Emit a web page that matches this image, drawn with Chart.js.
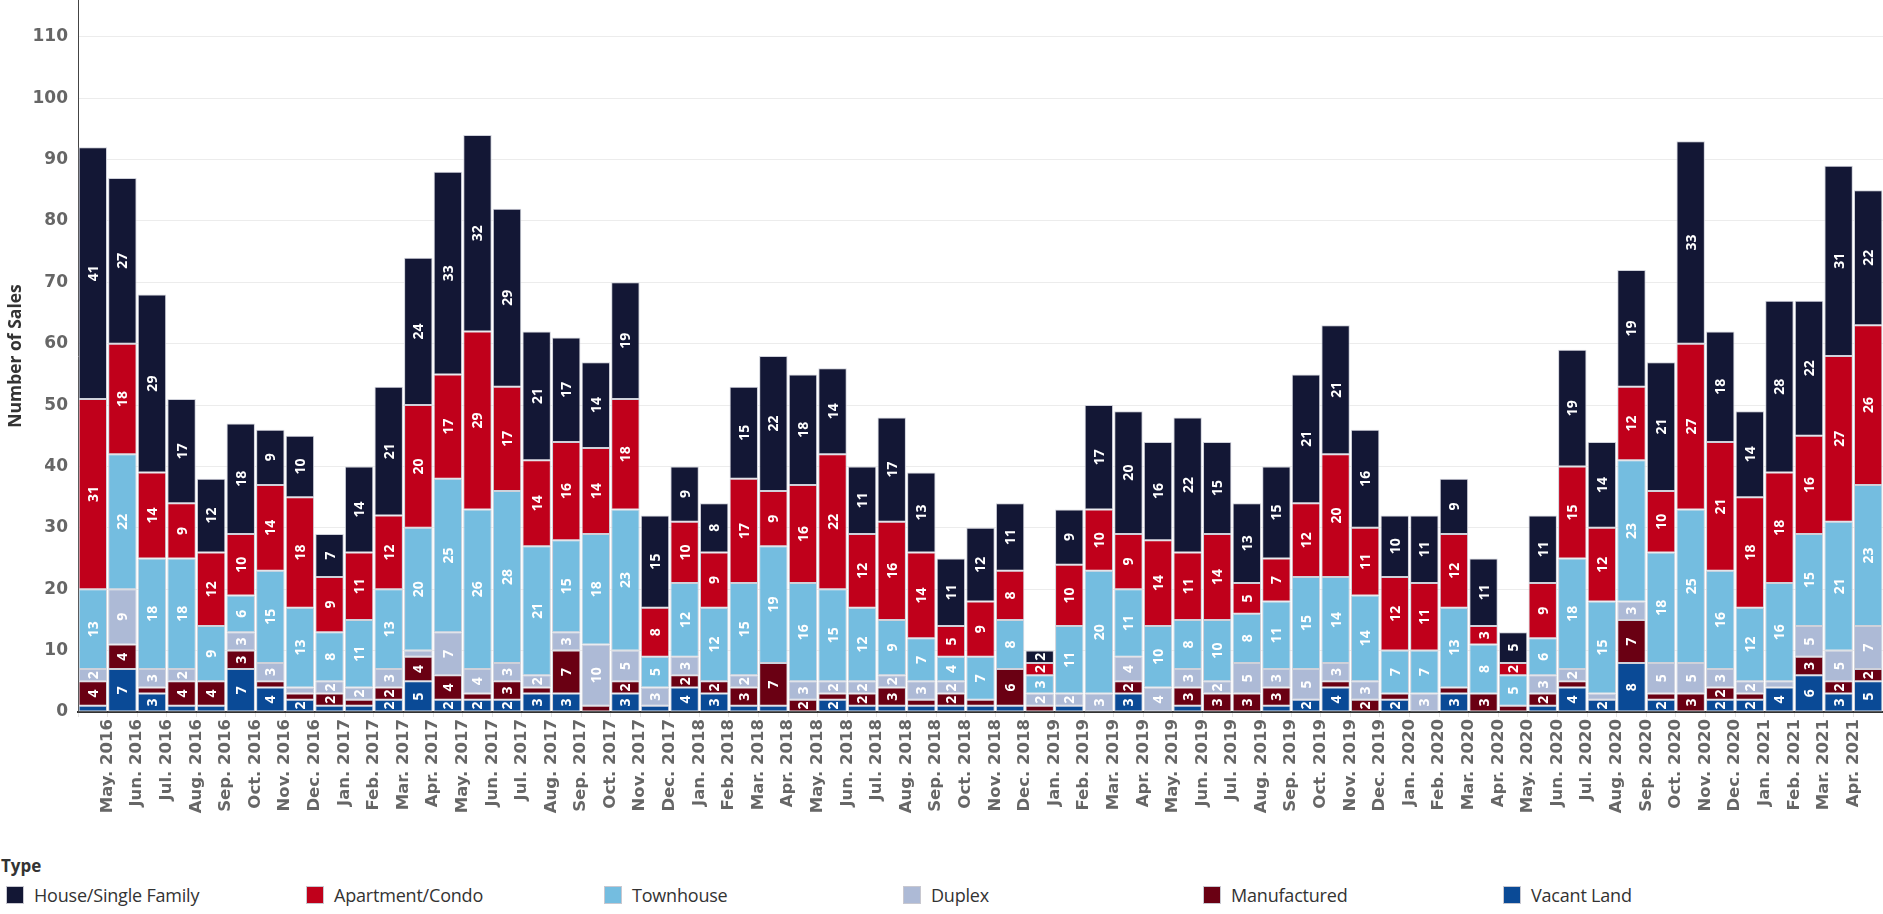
<!DOCTYPE html>
<html>
<head>
<meta charset="utf-8">
<script src="https://cdn.jsdelivr.net/npm/chart.js@4.4.1/dist/chart.umd.min.js"></script>
<style>
html,body{margin:0;padding:0;background:#fff;overflow:hidden;width:1883px;height:914px}
#wrap{position:relative;width:1883px;height:914px}
#c{position:absolute;left:0;top:0}
#legendTitle{position:absolute;left:1px;top:854px;font:bold 17px 'Open Sans',sans-serif;color:#333}
.item{position:absolute;top:884px;height:22px;display:flex;align-items:center;font:18px 'Open Sans',sans-serif;color:#333;white-space:nowrap;letter-spacing:-0.2px}
.sw{width:18px;height:18px;margin-right:10px;box-sizing:border-box;border:1px solid #c8c8d0}
</style>
</head>
<body>
<div id="wrap">
<canvas id="c" width="1883" height="850"></canvas>
<div id="legendTitle">Type</div>
<div id="legend"></div>
</div>
<script>
const months = ['May. 2016','Jun. 2016','Jul. 2016','Aug. 2016','Sep. 2016','Oct. 2016','Nov. 2016','Dec. 2016',
'Jan. 2017','Feb. 2017','Mar. 2017','Apr. 2017','May. 2017','Jun. 2017','Jul. 2017','Aug. 2017','Sep. 2017','Oct. 2017','Nov. 2017','Dec. 2017',
'Jan. 2018','Feb. 2018','Mar. 2018','Apr. 2018','May. 2018','Jun. 2018','Jul. 2018','Aug. 2018','Sep. 2018','Oct. 2018','Nov. 2018','Dec. 2018',
'Jan. 2019','Feb. 2019','Mar. 2019','Apr. 2019','May. 2019','Jun. 2019','Jul. 2019','Aug. 2019','Sep. 2019','Oct. 2019','Nov. 2019','Dec. 2019',
'Jan. 2020','Feb. 2020','Mar. 2020','Apr. 2020','May. 2020','Jun. 2020','Jul. 2020','Aug. 2020','Sep. 2020','Oct. 2020','Nov. 2020','Dec. 2020',
'Jan. 2021','Feb. 2021','Mar. 2021','Apr. 2021','May. 2021'];

const houseSingleFamily = [41,27,29,17,12,18,9,10,7,14,21,24,33,32,29,21,17,14,19,15,9,8,15,22,18,14,11,17,13,11,12,11,2,9,17,20,16,22,15,13,15,21,21,16,10,11,9,11,5,11,19,14,19,21,33,18,14,28,22,31,22];
const apartmentCondo   = [31,18,14,9,12,10,14,18,9,11,12,20,17,29,17,14,16,14,18,8,10,9,17,9,16,22,12,16,14,5,9,8,2,10,10,9,14,11,14,5,7,12,20,11,12,11,12,3,2,9,15,12,12,10,27,21,18,18,16,27,26];
const townhouse        = [13,22,18,18,9,6,15,13,8,11,13,20,25,26,28,21,15,18,23,5,12,12,15,19,16,15,12,9,7,4,7,8,3,11,20,11,10,8,10,8,11,15,14,14,7,7,13,8,5,6,18,15,23,18,25,16,12,16,15,21,23];
const duplex           = [2,9,3,2,0,3,3,1,2,2,3,1,7,4,3,2,3,10,5,3,3,0,2,0,3,2,2,2,3,2,0,0,2,2,3,4,4,3,2,5,3,5,3,3,0,3,0,0,0,3,2,1,3,5,5,3,2,1,5,5,7];
const manufactured     = [4,4,1,4,4,3,1,1,2,1,2,4,4,1,3,1,7,1,2,0,2,2,3,7,2,1,2,3,1,2,1,6,1,0,0,2,0,3,3,3,3,0,1,2,1,0,1,3,1,2,1,0,7,1,3,2,1,0,3,2,2];
const vacantLand       = [1,7,3,1,1,7,4,2,1,1,2,5,2,2,2,3,3,0,3,1,4,3,1,1,0,2,1,1,1,1,1,1,0,1,0,3,0,1,0,0,1,2,4,0,2,0,3,0,0,1,4,2,8,2,0,2,2,4,6,3,5];

const yTickValues = [0,10,20,30,40,50,60,70,80,90,100,110];
const labeledMonthCount = 60;

const legendNames  = ['House/Single Family','Apartment/Condo','Townhouse','Duplex','Manufactured','Vacant Land'];
const legendColors = ['#131735','#c0001b','#74bde0','#adbad6','#6a0013','#0a4a96'];
const legendX = [6,306,604,903,1203,1503];

const lg = document.getElementById('legend');
legendNames.forEach((n,i)=>{
  const d=document.createElement('div'); d.className='item'; d.style.left=legendX[i]+'px';
  const s=document.createElement('div'); s.className='sw'; s.style.background=legendColors[i];
  const t=document.createElement('span'); t.textContent=n;
  d.appendChild(s); d.appendChild(t); lg.appendChild(d);
});

const stackSeries = [
  ['Vacant Land', vacantLand, legendColors[5]],
  ['Manufactured', manufactured, legendColors[4]],
  ['Duplex', duplex, legendColors[3]],
  ['Townhouse', townhouse, legendColors[2]],
  ['Apartment/Condo', apartmentCondo, legendColors[1]],
  ['House/Single Family', houseSingleFamily, legendColors[0]]
];

const segLabels = {
  id:'segLabels',
  afterDatasetsDraw(chart){
    const ctx=chart.ctx; ctx.save();
    ctx.font='bold 14px "Open Sans"'; ctx.fillStyle='#ffffff';
    ctx.textAlign='center'; ctx.textBaseline='middle';
    chart.data.datasets.forEach((ds,di)=>{
      const meta=chart.getDatasetMeta(di);
      meta.data.forEach((el,i)=>{
        const v=ds.data[i]; if(!(v>=2)) return;
        const p=el.getProps(['x','y','base'],true);
        ctx.save(); ctx.translate(p.x,(p.y+p.base)/2); ctx.rotate(-Math.PI/2);
        ctx.fillText(String(v),0,1); ctx.restore();
      });
    });
    ctx.restore();
  }
};

const LEFT=78, CHART_BOTTOM=712, CANVAS_H=850, CANVAS_W=1883;
const halfBand=(CANVAS_W-LEFT)/months.length/2;

new Chart(document.getElementById('c'),{
  type:'bar',
  data:{
    labels:months,
    datasets:stackSeries.map(s=>({
      label:s[0], data:s[1], backgroundColor:s[2],
      borderColor:'#cfd1da', borderWidth:1, borderSkipped:false,
      barPercentage:0.96, categoryPercentage:1
    }))
  },
  options:{
    responsive:false, animation:false,
    layout:{padding:0},
    plugins:{legend:{display:false},tooltip:{enabled:false}},
    scales:{
      x:{
        stacked:true, offset:true,
        grid:{display:true,drawOnChartArea:false,drawTicks:true,tickLength:5,color:'#e4e4e4',offset:true},
        border:{display:true,color:'#333',width:2},
        ticks:{autoSkip:false,maxRotation:90,minRotation:90,labelOffset:halfBand,padding:2,color:'#666',
          font:{family:'DejaVu Sans',weight:'bold',size:16.5},
          callback:(v,i)=> i<labeledMonthCount ? months[i] : ''},
        afterFit(s){ s.height=CANVAS_H-CHART_BOTTOM; s.paddingLeft=0; s.paddingRight=0; }
      },
      y:{
        stacked:true, min:0, max:116,
        afterBuildTicks(s){ s.ticks=yTickValues.map(v=>({value:v})); },
        grid:{color:'#ececec',drawTicks:false},
        border:{display:true,color:'#444',width:1},
        ticks:{padding:10,color:'#666',font:{family:'DejaVu Sans',weight:'bold',size:17}},
        title:{display:true,text:'Number of Sales',color:'#333',font:{family:'Open Sans',weight:'bold',size:17.5},padding:{top:6,bottom:0}},
        afterFit(s){ s.width=LEFT; s.paddingTop=0; s.paddingBottom=0; }
      }
    }
  },
  plugins:[segLabels]
});
</script>
</body>
</html>
